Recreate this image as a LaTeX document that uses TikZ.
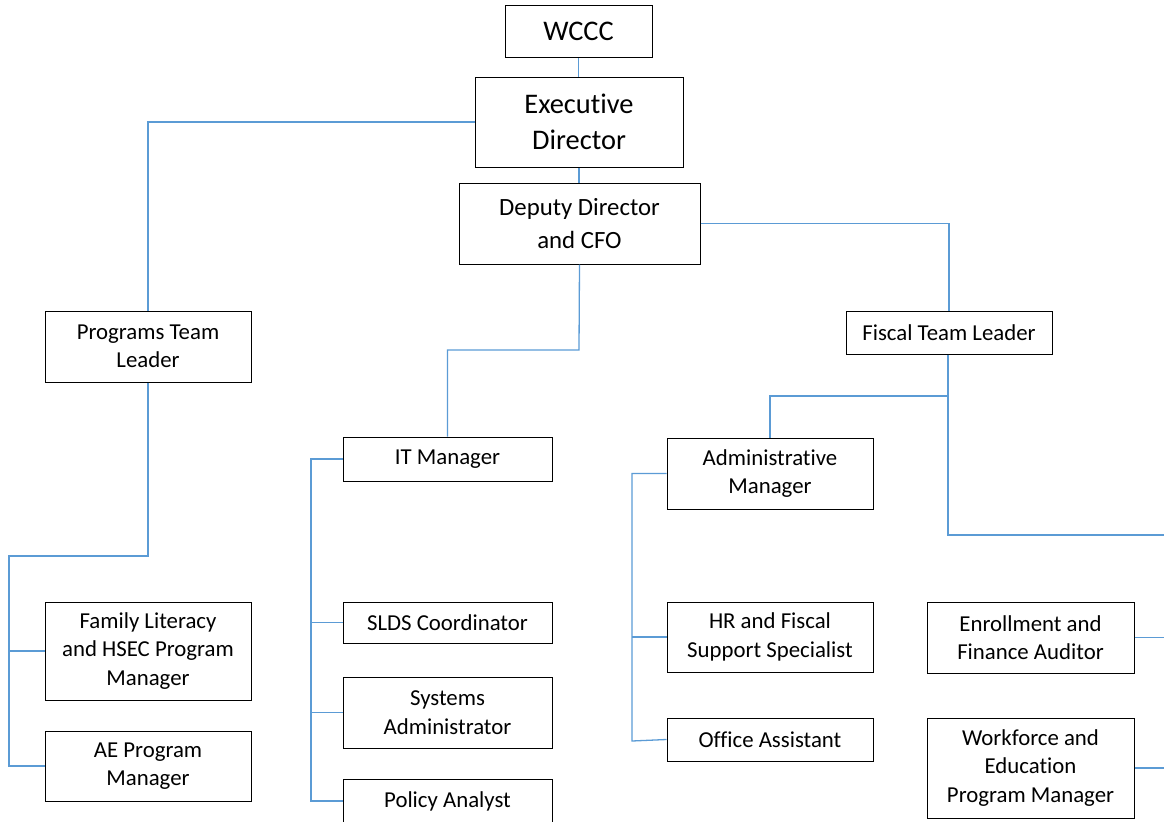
\documentclass[tikz,border=0pt]{standalone}
\usepackage{fontspec}
\setmainfont{Carlito}[Ligatures=NoCommon]
\definecolor{linkblue}{RGB}{91,155,213}
\tikzset{box/.style 2 args={draw, line width=0.5pt, align=center, inner sep=0pt,
    minimum width=#1*0.5pt, minimum height=#2*0.5pt,
    font=\fontsize{11.4}{14.2}\selectfont},
  big/.style={font=\fontsize{14.2}{18.3}\selectfont},
  mid/.style={font=\fontsize{12.4}{16.5}\selectfont},
  link/.style={draw=linkblue, line width=0.65pt}
}

\begin{document}
\begin{tikzpicture}[x=0.5pt,y=-0.5pt]
  \useasboundingbox (0,0) rectangle (1164,821);
  % top of the chart
  \node[box={147}{52}, big] (wccc) at (578.5,31.5) {WCCC};
  \node[box={208}{90}, big] (exec) at (579,122) {Executive\\Director};
  \node[box={241}{81}, mid] (deputy) at (579.5,223.5) {Deputy Director\\and CFO};
  % team leaders
  \node[box={206}{71}] (prog) at (148,346.5) {Programs Team\\Leader};
  \node[box={206}{43}] (fiscal) at (949,332.5) {Fiscal Team Leader};
  \node[box={209}{44}] (itm) at (447.5,459) {IT Manager};
  \node[box={206}{71}] (admin) at (770,473.5) {Administrative\\Manager};
  % staff
  \node[box={206}{98}] (family) at (148,651) {Family Literacy\\and HSEC Program\\Manager};
  \node[box={206}{70}] (ae) at (148,766) {AE Program\\Manager};
  \node[box={209}{41}] (slds) at (447.5,622.5) {SLDS Coordinator};
  \node[box={209}{71}] (sysad) at (447.5,712.5) {Systems\\Administrator};
  \node[box={209}{44}] (policy) at (447.5,801) {Policy Analyst};
  \node[box={206}{70}] (hr) at (770,637) {HR and Fiscal\\Support Specialist};
  \node[box={206}{43}] (office) at (770,739.5) {Office Assistant};
  \node[box={207}{71}] (enroll) at (1030.5,637.5) {Enrollment and\\Finance Auditor};
  \node[box={207}{100}] (workforce) at (1030.5,768) {Workforce and\\Education\\Program Manager};

  % bends of the connectors
  \coordinate (itbend) at (579,350);
  \coordinate (fbus) at (948,396);
  \coordinate (redge) at (1164,535);
  \coordinate (pbend) at (9,556);
  \coordinate (itbus) at (311,801);
  \coordinate (abus) at (632,741);

  \draw[link] (wccc.south) -- (wccc.south |- exec.north);
  \draw[link] (exec.south) -- (exec.south |- deputy.north);
  \draw[link] (exec.west) -| (prog.north);
  \draw[link] (deputy.east) -| (fiscal.north);
  \draw[link] (deputy.south) -- (itbend) -| (itm.north);
  \draw[link] (fiscal.south -| fbus) -- (fbus) -| (admin.north);
  \draw[link] (fbus) |- (redge);
  \draw[link] (prog.south) |- (pbend) |- (ae.west);
  \draw[link] (pbend |- family.west) -- (family.west);
  \draw[link] (itm.west) -| (itbus) -- (policy.west);
  \draw[link] (itbus |- slds.west) -- (slds.west);
  \draw[link] (itbus |- sysad.west) -- (sysad.west);
  \draw[link] (admin.west) -| (abus) -- (office.west);
  \draw[link] (abus |- hr.west) -- (hr.west);
  \draw[link] (enroll.east) -- (enroll.east -| redge);
  \draw[link] (workforce.east) -- (workforce.east -| redge);
\end{tikzpicture}
\end{document}
